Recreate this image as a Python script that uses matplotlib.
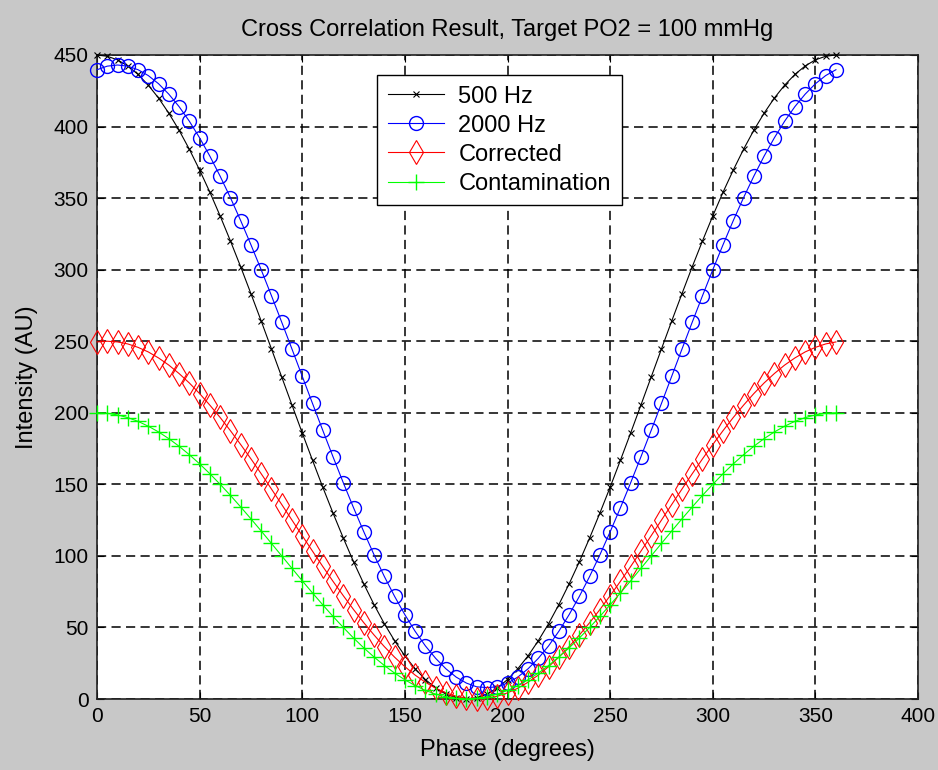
import matplotlib
matplotlib.use("Agg")
import matplotlib.pyplot as plt

plt.rcParams['font.family'] = ['Liberation Sans', 'DejaVu Sans']

phase = list(range(0, 361, 5))

hz500 = [450.0, 449.1, 446.6, 442.3, 436.4, 428.9, 419.9, 409.3, 397.4, 384.1,
         369.6, 354.1, 337.5, 320.1, 302.0, 283.2, 264.1, 244.6, 225.0, 205.4,
         185.9, 166.8, 148.0, 129.9, 112.5, 95.9, 80.4, 65.9, 52.6, 40.7,
         30.1, 21.1, 13.6, 7.7, 3.4, 0.9, 0.0, 0.9, 3.4, 7.7,
         13.6, 21.1, 30.1, 40.7, 52.6, 65.9, 80.4, 95.9, 112.5, 129.9,
         148.0, 166.8, 185.9, 205.4, 225.0, 244.6, 264.1, 283.2, 302.0, 320.1,
         337.5, 354.1, 369.6, 384.1, 397.4, 409.3, 419.9, 428.9, 436.4, 442.3,
         446.6, 449.1, 450.0]

hz2000 = [439.7, 442.2, 443.0, 442.2, 439.7, 435.6, 429.9, 422.6, 413.9, 403.7,
          392.1, 379.3, 365.3, 350.3, 334.3, 317.4, 299.9, 281.8, 263.3, 244.5,
          225.5, 206.5, 187.7, 169.2, 151.1, 133.6, 116.8, 100.7, 85.6, 71.7,
          58.9, 47.3, 37.1, 28.4, 21.1, 15.3, 11.1, 8.5, 8.0, 8.5,
          11.1, 15.3, 21.1, 28.4, 37.1, 47.3, 58.9, 71.7, 85.6, 100.7,
          116.8, 133.6, 151.1, 169.2, 187.7, 206.5, 225.5, 244.5, 263.3, 281.8,
          299.9, 317.4, 334.3, 350.3, 365.3, 379.3, 392.1, 403.7, 413.9, 422.6,
          429.9, 435.6, 439.7]

corrected = [249.5, 250.0, 249.5, 248.1, 245.7, 242.5, 238.3, 233.3, 227.4, 220.8,
             213.4, 205.3, 196.7, 187.5, 177.8, 167.8, 157.4, 146.7, 135.9, 125.0,
             114.1, 103.3, 92.6, 82.2, 72.2, 62.5, 53.3, 44.7, 36.6, 29.2,
             22.6, 16.7, 11.7, 7.5, 4.3, 1.9, 0.5, 0.0, 0.5, 1.9,
             4.3, 7.5, 11.7, 16.7, 22.6, 29.2, 36.6, 44.7, 53.3, 62.5,
             72.2, 82.2, 92.6, 103.3, 114.1, 125.0, 135.9, 146.7, 157.4, 167.8,
             177.8, 187.5, 196.7, 205.3, 213.4, 220.8, 227.4, 233.3, 238.3, 242.5,
             245.7, 248.1, 249.5]

contamination = [200.0, 199.6, 198.5, 196.6, 194.0, 190.6, 186.6, 181.9, 176.6, 170.7,
                 164.3, 157.4, 150.0, 142.3, 134.2, 125.9, 117.4, 108.7, 100.0, 91.3,
                 82.6, 74.1, 65.8, 57.7, 50.0, 42.6, 35.7, 29.3, 23.4, 18.1,
                 13.4, 9.4, 6.0, 3.4, 1.5, 0.4, 0.0, 0.4, 1.5, 3.4,
                 6.0, 9.4, 13.4, 18.1, 23.4, 29.3, 35.7, 42.6, 50.0, 57.7,
                 65.8, 74.1, 82.6, 91.3, 100.0, 108.7, 117.4, 125.9, 134.2, 142.3,
                 150.0, 157.4, 164.3, 170.7, 176.6, 181.9, 186.6, 190.6, 194.0, 196.6,
                 198.5, 199.6, 200.0]

labels = ["500 Hz", "2000 Hz", "Corrected", "Contamination"]
xticks = [0, 50, 100, 150, 200, 250, 300, 350, 400]
yticks = [0, 50, 100, 150, 200, 250, 300, 350, 400, 450]

fig = plt.figure(figsize=(9.38, 7.70), dpi=100, facecolor='#c8c8c8')
ax = fig.add_axes([0.1034, 0.0922, 0.8753, 0.8364])
ax.set_facecolor('white')

lw = 0.8
ax.plot(phase, hz500, color='black', marker='x', markersize=5, lw=lw,
        markeredgewidth=0.8, label=labels[0], clip_on=False, zorder=3)
ax.plot(phase, hz2000, color='blue', marker='o', markersize=10, lw=lw,
        markerfacecolor='none', markeredgewidth=1.0, label=labels[1], clip_on=False, zorder=3)
ax.plot(phase, corrected, color='red', marker='d', markersize=12, lw=lw,
        markerfacecolor='none', markeredgewidth=0.8, label=labels[2], clip_on=False, zorder=3)
ax.plot(phase, contamination, color='#00ff00', marker='+', markersize=11, lw=lw,
        markeredgewidth=1.0, label=labels[3], clip_on=False, zorder=3)

ax.set_xlim(0, 400)
ax.set_ylim(0, 450)
ax.set_xticks(xticks)
ax.set_yticks(yticks)
ax.tick_params(direction='in', length=5, width=0.8, top=True, right=True,
               labelsize=15, pad=6, colors='black')
ax.grid(True, color='black', linestyle=(0, (6, 3.5)), linewidth=1.1)
ax.set_axisbelow(True)
for s in ax.spines.values():
    s.set_linewidth(1.2)
    s.set_color('#202020')

ax.set_title("Cross Correlation Result, Target PO2 = 100 mmHg", fontsize=17, pad=14)
ax.set_xlabel("Phase (degrees)", fontsize=17, labelpad=9)
ax.set_ylabel("Intensity (AU)", fontsize=17, labelpad=11)

leg = ax.legend(loc='upper left', bbox_to_anchor=(0.341, 0.969), fontsize=17,
                frameon=True, fancybox=False, shadow=False, framealpha=1,
                edgecolor='black', handlelength=2.4, borderpad=0.45, borderaxespad=0,
                labelspacing=0.3, handletextpad=0.6)
leg.get_frame().set_linewidth(1.0)

fig.savefig("out.png", dpi=100, facecolor=fig.get_facecolor())
